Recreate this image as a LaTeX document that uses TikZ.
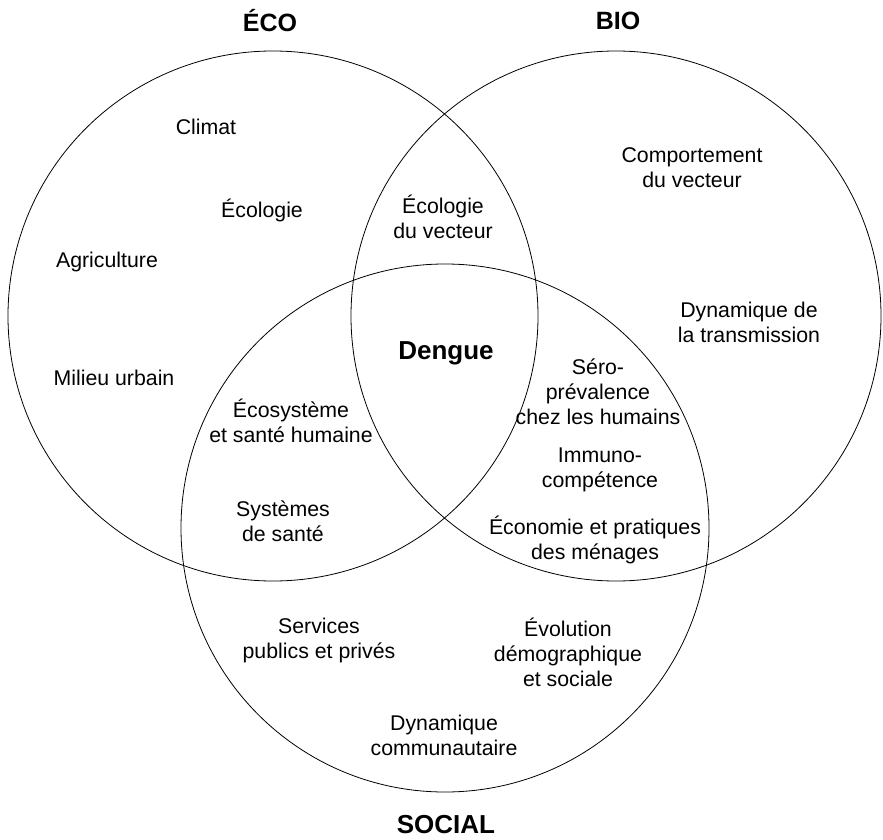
\documentclass[tikz,border=0pt]{standalone}
\usepackage{fontspec}
\setmainfont{Liberation Sans}
\begin{document}
\begin{tikzpicture}[x=1pt,y=-1pt,
  ring/.style={draw=black,line width=0.8pt},
  lbl/.style={align=center,font=\fontsize{21.3}{25}\selectfont,inner sep=0pt},
  ttl/.style={align=center,font=\fontsize{25}{30}\selectfont\bfseries,inner sep=0pt}]
\useasboundingbox (0,0) rectangle (883,840);
\coordinate (cL) at (273,316);
\coordinate (cR) at (616,316);
\coordinate (cS) at (445,528);
\draw[ring] (cL) circle[radius=265];
\draw[ring] (cR) circle[radius=265];
\draw[ring] (cS) circle[radius=264];
\node[ttl] (eco) at (270,21) {ÉCO};
\node[ttl] (bio) at (618,21) {BIO};
\node[ttl,font=\fontsize{26}{30}\selectfont\bfseries] (social) at (446,825) {SOCIAL};
\node[ttl,font=\fontsize{26}{30}\selectfont\bfseries] (dengue) at (446,353) {Dengue};
\node[lbl] (climat) at (206,127) {Climat};
\node[lbl] (ecologie) at (262,210) {Écologie};
\node[lbl] (agri) at (107,262) {Agriculture};
\node[lbl] (milieu) at (114,378) {Milieu urbain};
\node[lbl] (ecovec) at (443,217) {Écologie\\du vecteur};
\node[lbl] (comp) at (692,168) {Comportement\\du vecteur};
\node[lbl] (dyntr) at (749,322) {Dynamique de\\la transmission};
\node[lbl] (sero) at (598,392) {Séro-\\prévalence\\chez les humains};
\node[lbl] (ecosys) at (291,421) {Écosystème\\et santé humaine};
\node[lbl] (immuno) at (600,470) {Immuno-\\compétence};
\node[lbl] (sys) at (283,521) {Systèmes\\de santé};
\node[lbl] (econ) at (595,540) {Économie et pratiques\\des ménages};
\node[lbl] (serv) at (319,640) {Services\\publics et privés};
\node[lbl] (evol) at (568,652) {Évolution\\démographique\\et sociale};
\node[lbl] (dyncom) at (444,735) {Dynamique\\communautaire};
\end{tikzpicture}
\end{document}
